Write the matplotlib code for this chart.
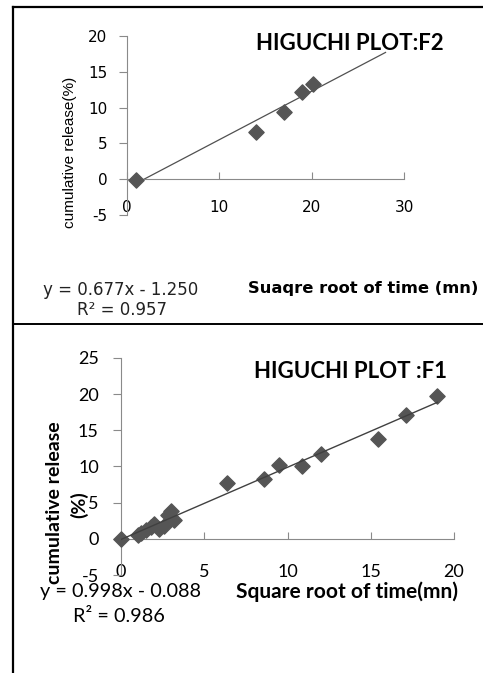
import numpy as np
import matplotlib
matplotlib.use('Agg')
from matplotlib import pyplot as plt
from matplotlib.lines import Line2D

plt.rcParams['axes.unicode_minus'] = False

# F2 data (top panel)
f2_x = [1.0, 14.0, 17.0, 19.0, 20.1]
f2_y = [-0.1, 6.6, 9.4, 12.2, 13.3]
f2_slope, f2_icept = 0.677, -1.250
f2_line_x = [1.0, 28.0]

# F1 data (bottom panel)
f1_x = [0.0, 1.0, 1.2, 1.5, 1.8, 2.0, 2.3, 2.6, 2.8, 3.0, 3.2,
        6.34, 8.6, 9.5, 10.9, 12.0, 15.45, 17.1, 18.95]
f1_y = [0.0, 0.5, 0.8, 1.2, 1.6, 2.0, 1.3, 1.8, 3.3, 3.9, 2.6,
        7.7, 8.3, 10.2, 10.0, 11.7, 13.8, 17.1, 19.7]
f1_slope, f1_icept = 0.998, -0.088
f1_line_x = [0.0, 19.0]

W, H = 483, 673
MARK = '#555555'
SPINE = '#8a8a8a'


def fx(px):
    return px / W


def fy(py):
    return 1 - py / H


def style_axes(ax, font, size, ypad):
    for s in ['top', 'right']:
        ax.spines[s].set_visible(False)
    ax.spines['left'].set_color(SPINE)
    ax.spines['bottom'].set_color(SPINE)
    ax.spines['bottom'].set_position(('data', 0))
    ax.tick_params(axis='y', direction='out', length=6, color=SPINE, pad=ypad)
    ax.tick_params(axis='x', direction='in', length=5, color=SPINE, pad=16)
    for lab in ax.get_xticklabels() + ax.get_yticklabels():
        lab.set_fontfamily(font)
        lab.set_fontsize(size)
    ax.set_facecolor('none')


def main():
    fig = plt.figure(figsize=(W / 100, H / 100), dpi=100)

    # frame lines
    fig.add_artist(Line2D([fx(13), 1], [fy(7), fy(7)], color='black', lw=1.6))
    fig.add_artist(Line2D([fx(13), fx(13)], [fy(7), 0], color='black', lw=1.6))
    fig.add_artist(Line2D([fx(13), 1], [fy(324), fy(324)], color='black', lw=1.4))

    # top chart
    ax1 = fig.add_axes([fx(127), fy(215), fx(404) - fx(127), fy(36) - fy(215)])
    ax1.set_xlim(0, 30)
    ax1.set_ylim(-5, 20)
    ax1.set_xticks([0, 10, 20, 30])
    ax1.set_yticks([-5, 0, 5, 10, 15, 20])
    lx = np.array(f2_line_x)
    ax1.plot(lx, f2_slope * lx + f2_icept, color='#505050', lw=0.9, zorder=2)
    ax1.scatter(f2_x, f2_y, marker='D', s=60, color=MARK, zorder=3, clip_on=False)
    style_axes(ax1, 'DejaVu Sans', 11, 8)
    ax1.tick_params(axis='x', pad=15)

    fig.text(fx(350), fy(43), 'HIGUCHI PLOT:F2', family='Lato', weight='bold',
             fontsize=16, ha='center', va='center')
    fig.text(fx(70), fy(152), 'cumulative release(%)', family='Liberation Sans',
             fontsize=11, rotation=90, ha='center', va='center')
    fig.text(fx(121), fy(290), 'y = 0.677x - 1.250', family='DejaVu Sans',
             fontsize=12, ha='center', va='center', color='#222222')
    fig.text(fx(122), fy(310), 'R² = 0.957', family='DejaVu Sans',
             fontsize=12, ha='center', va='center', color='#222222')
    fig.text(fx(363), fy(289), 'Suaqre root of time (mn)', family='DejaVu Sans',
             weight='bold', fontsize=11.8, ha='center', va='center')

    # bottom chart
    ax2 = fig.add_axes([fx(121), fy(575), fx(454) - fx(121), fy(358) - fy(575)])
    ax2.set_xlim(0, 20)
    ax2.set_ylim(-5, 25)
    ax2.set_xticks([0, 5, 10, 15, 20])
    ax2.set_yticks([-5, 0, 5, 10, 15, 20, 25])
    lx = np.array(f1_line_x)
    ax2.plot(lx, f1_slope * lx + f1_icept, color='#404040', lw=1.0, zorder=4)
    ax2.scatter(f1_x, f1_y, marker='D', s=60, color=MARK, zorder=3, clip_on=False)
    style_axes(ax2, 'Lato', 13, 10)
    ax2.tick_params(axis='x', pad=18)

    fig.text(fx(350), fy(372), 'HIGUCHI PLOT :F1', family='Lato', weight='bold',
             fontsize=16, ha='center', va='center')
    fig.text(fx(55), fy(503), 'cumulative release', family='Lato', weight='bold',
             fontsize=14, rotation=90, ha='center', va='center')
    fig.text(fx(79), fy(505), '(%)', family='Lato', weight='bold',
             fontsize=14, rotation=90, ha='center', va='center')
    fig.text(fx(120), fy(592), 'y = 0.998x - 0.088', family='Lato',
             fontsize=14.3, ha='center', va='center')
    fig.text(fx(119), fy(617), 'R² = 0.986', family='Lato',
             fontsize=14.3, ha='center', va='center')
    fig.text(fx(347), fy(592), 'Square root of time(mn)', family='Lato',
             weight='bold', fontsize=15, ha='center', va='center')

    fig.savefig('out.png', dpi=100)


if __name__ == '__main__':
    main()
